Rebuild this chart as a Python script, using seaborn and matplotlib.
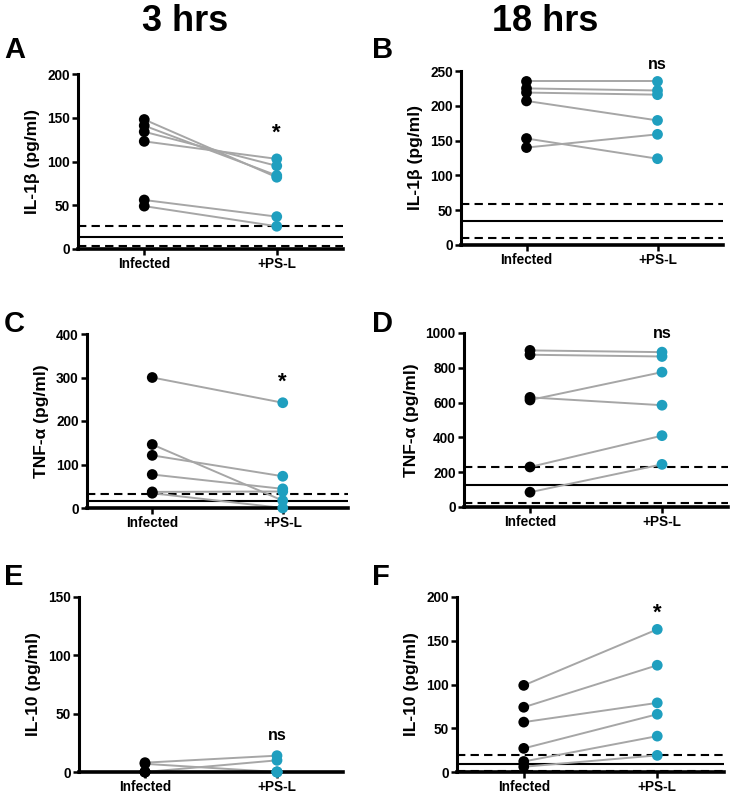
import matplotlib
matplotlib.use("Agg")
import matplotlib.pyplot as plt
import pandas as pd
import seaborn as sns

conditions = ["Infected", "+PS-L"]

# panel values (pg/ml), paired per sample
a_inf = [148, 141, 134, 123, 56, 49]
a_psl = [82, 84, 95, 103, 37, 26]
b_inf = [235, 225, 219, 207, 153, 140]
b_psl = [235, 222, 216, 179, 124, 159]
c_inf = [300, 146, 121, 77, 37, 34]
c_psl = [242, 17, 73, 44, 38, 0]
d_inf = [900, 875, 630, 615, 230, 85]
d_psl = [890, 865, 585, 775, 410, 245]
e_inf = [8, 7, 0, 0, 0, 0]
e_psl = [14, 0, 10, 0, 0, 0]
f_inf = [99, 74, 57, 27, 12, 6]
f_psl = [163, 122, 79, 66, 41, 19]

# baseline (uninfected) mean and range: lower dashed, solid, upper dashed
a_base = [3, 14, 26]
b_base = [10, 34, 59]
c_base = [None, 17, 33]
d_base = [25, 125, 228]
e_base = None
f_base = [1, 9, 19]

y_labels = ["IL-1\u03b2 (pg/ml)", "IL-1\u03b2 (pg/ml)", "TNF-\u03b1 (pg/ml)",
            "TNF-\u03b1 (pg/ml)", "IL-10 (pg/ml)", "IL-10 (pg/ml)"]
y_max = [200, 250, 400, 1000, 150, 200]
y_step = [50, 50, 100, 200, 50, 50]
sig = ["*", "ns", "*", "ns", "ns", "*"]
sig_y = [132, 259, 290, 1000, 31, 182]
letters = ["A", "B", "C", "D", "E", "F"]

panels = [(a_inf, a_psl, a_base), (b_inf, b_psl, b_base), (c_inf, c_psl, c_base),
          (d_inf, d_psl, d_base), (e_inf, e_psl, e_base), (f_inf, f_psl, f_base)]

W, H = 731, 793
boxes = [(78, 249, 265, 175), (461, 245, 262, 174), (87, 508, 261, 174),
         (464, 507, 264, 174), (79, 772, 264, 175), (457, 772, 267, 175)]
letter_pos = [(4, 58), (372, 58), (4, 332), (372, 332), (4, 585), (372, 585)]

teal = "#1f9fbf"
sns.set_theme(style="ticks")
plt.rcParams["font.family"] = ["Liberation Sans", "DejaVu Sans"]
for key in ["text.color", "axes.labelcolor", "axes.edgecolor", "xtick.color", "ytick.color"]:
    plt.rcParams[key] = "black"

fig = plt.figure(figsize=(W / 100, H / 100), dpi=100)

for i, (inf, psl, base) in enumerate(panels):
    x0, yb, w, h = boxes[i]
    ax = fig.add_axes([x0 / W, 1 - yb / H, w / W, h / H])
    df = pd.DataFrame({
        "subject": list(range(len(inf))) * 2,
        "condition": [conditions[0]] * len(inf) + [conditions[1]] * len(psl),
        "value": inf + psl,
    })
    if base is not None:
        lo, mid, hi = base
        if lo is not None:
            ax.axhline(lo, color="black", ls=(0, (4, 2.5)), lw=1.5, zorder=1)
        ax.axhline(mid, color="black", lw=1.5, zorder=1)
        ax.axhline(hi, color="black", ls=(0, (4, 2.5)), lw=1.5, zorder=1)
    sns.lineplot(data=df, x="condition", y="value", units="subject", estimator=None,
                 color="#a6a6a6", lw=1.4, ax=ax, zorder=2)
    sns.scatterplot(data=df, x="condition", y="value", hue="condition",
                    palette=["black", teal], s=60, edgecolor="none", legend=False,
                    ax=ax, zorder=3, clip_on=False)
    ax.set_xlim(-0.5, 1.5)
    ax.set_ylim(0, y_max[i])
    ax.set_yticks(range(0, y_max[i] + 1, y_step[i]))
    ax.set_xlabel("")
    ax.set_ylabel(y_labels[i], fontsize=12.5, fontweight="bold", labelpad=5)
    for lab in ax.get_xticklabels() + ax.get_yticklabels():
        lab.set_fontweight("bold")
    ax.tick_params(axis="both", labelsize=9.8, width=1.8, length=4, pad=2, color="black")
    ax.spines["left"].set_linewidth(2.2)
    ax.spines["bottom"].set_linewidth(2.6)
    sns.despine(ax=ax)
    ax.text(1, sig_y[i], sig[i], ha="center", va="center", clip_on=False,
            fontsize=16 if sig[i] == "*" else 11.5, fontweight="bold")
    lx, ly = letter_pos[i]
    fig.text(lx / W, 1 - ly / H, letters[i], fontsize=21, fontweight="bold",
             ha="left", va="baseline")

fig.text(185 / W, 1 - 31 / H, "3 hrs", fontsize=26, fontweight="bold",
         ha="center", va="baseline")
fig.text(545 / W, 1 - 31 / H, "18 hrs", fontsize=26, fontweight="bold",
         ha="center", va="baseline")

fig.savefig("out.png", dpi=100)
